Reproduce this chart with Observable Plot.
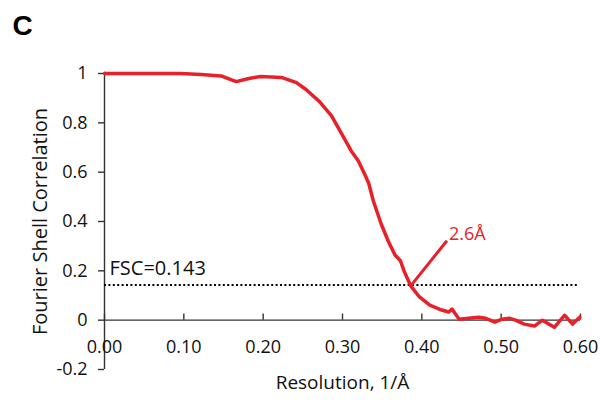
<!DOCTYPE html>
<html><head><meta charset="utf-8">
<script src="https://cdn.jsdelivr.net/npm/d3@7"></script>
<script src="https://cdn.jsdelivr.net/npm/@observablehq/plot@0.6"></script>
<style>body{margin:0;background:#fff;} svg{display:block;}</style>
</head><body><div id="chart"></div>
<script>
const resolution = [0,0.05,0.096,0.122,0.147,0.166,0.182,0.197,0.223,0.242,0.254,0.271,0.286,0.299,0.311,0.320,0.328,0.333,0.339,0.349,0.358,0.366,0.373,0.378,0.386,0.397,0.41,0.425,0.434,0.438,0.447,0.459,0.472,0.48,0.492,0.501,0.51,0.518,0.529,0.542,0.552,0.567,0.58,0.59,0.599];
const fsc = [1,1,1,0.996,0.99,0.967,0.98,0.988,0.984,0.963,0.935,0.886,0.829,0.755,0.686,0.645,0.592,0.555,0.482,0.388,0.318,0.265,0.241,0.196,0.139,0.094,0.061,0.041,0.033,0.045,0.004,0.008,0.012,0.008,-0.008,0.004,0.008,0,-0.016,-0.024,0,-0.029,0.02,-0.016,0.012];
const xTicks = [0,0.1,0.2,0.3,0.4,0.5,0.6];
const yTicks = [1,0.8,0.6,0.4,0.2,0,-0.2];
const threshold = 0.143;
const crossing = {x: 0.386, y: 0.139, lx: 0.4316, ly: 0.322, label: "2.6Å"};

const data = resolution.map((r,i)=>({r, v: fsc[i]}));
const font = "Open Sans, sans-serif";
const red = "#e8202a";

const chart = Plot.plot({
  width: 600, height: 401,
  marginLeft: 104, marginRight: 20, marginTop: 73, marginBottom: 32,
  style: {fontFamily: font, fontSize: "18px", color: "#111", background: "#fff"},
  x: {domain: [0, 0.6], axis: null},
  y: {domain: [-0.2, 1]},
  marks: [
    Plot.axisY({ticks: yTicks, tickSize: 6, tickPadding: 11, tickFormat: d => String(d), label: null, stroke: "#333", strokeWidth: 1.4, fontSize: 18}),
    Plot.ruleX([0], {y1: -0.2, y2: 1.005, stroke: "#333", strokeWidth: 1.4}),
    Plot.ruleY([0], {x1: 0, x2: 0.6, stroke: "#333", strokeWidth: 1.4}),
    Plot.ruleX(xTicks, {x: d => d, y1: 0, y2: 0.025, stroke: "#333", strokeWidth: 1.4}),
    Plot.text(xTicks, {x: d => d, y: 0, dy: 27, text: d => d3.format(".2f")(d), fontSize: 18, fill: "#111"}),
    Plot.ruleY([threshold], {x1: 0, x2: 0.597, stroke: "#000", strokeWidth: 2, strokeDasharray: "2,2.4"}),
    Plot.text(["FSC=0.143"], {x: 0, y: threshold, dx: 5, dy: -16, textAnchor: "start", fontSize: 20, fill: "#111"}),
    Plot.line(data, {x: "r", y: "v", stroke: red, strokeWidth: 3.5, strokeLinejoin: "round"}),
    Plot.link([crossing], {x1: "x", y1: "y", x2: "lx", y2: "ly", stroke: red, strokeWidth: 3}),
    Plot.text([crossing], {x: "lx", y: "ly", text: "label", dx: 2, dy: -7, textAnchor: "start", fill: red, fontSize: 18}),
    Plot.text(["Fourier Shell Correlation"], {frameAnchor: "left", dx: -64, rotate: -90, textAnchor: "middle", fontSize: 20, fill: "#111"}),
    Plot.text(["Resolution, 1/Å"], {frameAnchor: "bottom", dy: 19, fontSize: 19, fill: "#111"}),
    Plot.text(["C"], {frameAnchor: "top-left", dx: -92, dy: -58, fontSize: 28, fontWeight: "bold", fontFamily: "Liberation Sans, Arial, sans-serif", fill: "#000", textAnchor: "start"})
  ]
});
document.getElementById("chart").appendChild(chart);
</script></body></html>
